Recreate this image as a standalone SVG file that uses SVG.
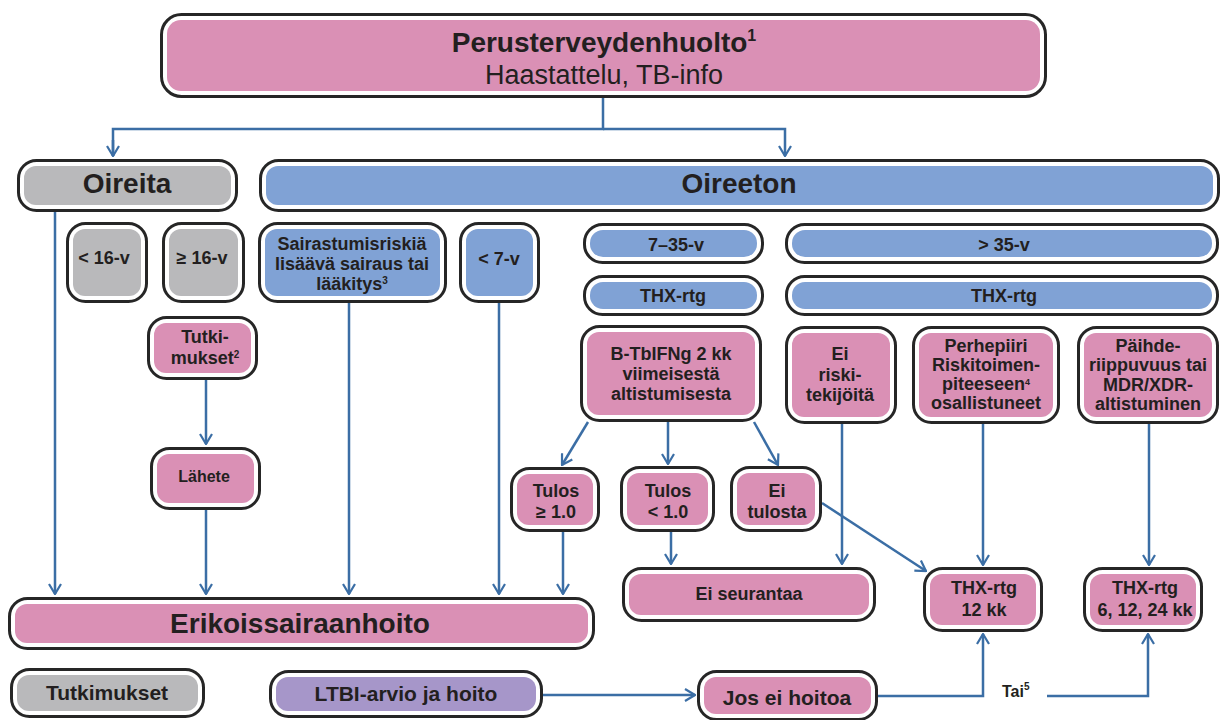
<svg xmlns="http://www.w3.org/2000/svg" width="1223" height="720" viewBox="0 0 1223 720">
<defs>
<style>
.o{fill:#fff;stroke:#262626;stroke-width:3}
.p{fill:#da90b5}
.b{fill:#80a2d5}
.g{fill:#b9b9bb}
.v{fill:#a696c9}
text{font-family:"Liberation Sans",Arial,sans-serif;font-weight:bold;fill:#231f20;text-anchor:middle;font-size:18px}
.big{font-size:28px}
.mid{font-size:21px}
.c{fill:none;stroke:#3b6ea5;stroke-width:2.5}
.a{marker-end:url(#ar)}
</style>
<marker id="ar" viewBox="0 0 12 14" refX="11" refY="7" markerWidth="12" markerHeight="14" markerUnits="userSpaceOnUse" orient="auto">
<path d="M1,1 L11,7 L1,13" fill="none" stroke="#3b6ea5" stroke-width="2.2"/>
</marker>
</defs>
<rect width="1223" height="720" fill="#fff"/>
<g id="connectors">
<path class="c" d="M603,98 V129 H113 V156"/>
<path class="c a" d="M113,140 V156"/>
<path class="c a" d="M603,129 H785 V156"/>
<path class="c a" d="M55,212 V594"/>
<path class="c a" d="M206,380 V444"/>
<path class="c a" d="M206,510 V594"/>
<path class="c a" d="M349,303 V594"/>
<path class="c a" d="M499,303 V594"/>
<path class="c a" d="M563,532 V594"/>
<path class="c a" d="M588,422 L562,465"/>
<path class="c a" d="M668,422 V464"/>
<path class="c a" d="M754,422 L778,465"/>
<path class="c a" d="M671,532 V564"/>
<path class="c a" d="M842,424 V564"/>
<path class="c a" d="M822,503 L926,571"/>
<path class="c a" d="M983,424 V565"/>
<path class="c a" d="M1149,424 V565"/>
<path class="c a" d="M543,695 H695"/>
<path class="c a" d="M878,696 H983 V634"/>
<path class="c a" d="M1047,696 H1148 V634"/>
</g>
<g id="n-top"><rect class="o" x="161.5" y="14.5" width="884" height="82" rx="20"/><rect class="p" x="167" y="20" width="873" height="71" rx="14"/>
<text x="604" y="52" class="big">Perusterveydenhuolto<tspan font-size="16" dy="-11">1</tspan></text>
<text x="604" y="84" style="font-weight:normal;font-size:27px">Haastattelu, TB-info</text></g>
<g id="n-oireita"><rect class="o" x="18.5" y="160.5" width="218" height="50" rx="18"/><rect class="g" x="24" y="166" width="207" height="39" rx="12"/><text x="127" y="193" class="big">Oireita</text></g>
<g id="n-oireeton"><rect class="o" x="260.5" y="160.5" width="958" height="50" rx="18"/><rect class="b" x="266" y="166" width="947" height="39" rx="12"/><text x="739" y="193" class="big">Oireeton</text></g>
<g id="n-lt16"><rect class="o" x="67.5" y="223.5" width="79" height="78" rx="18"/><rect class="g" x="73" y="229" width="68" height="67" rx="12"/><text x="104" y="264">&lt; 16-v</text></g>
<g id="n-ge16"><rect class="o" x="163.5" y="223.5" width="80" height="78" rx="18"/><rect class="g" x="169" y="229" width="69" height="67" rx="12"/><text x="202" y="264">≥ 16-v</text></g>
<g id="n-sairas"><rect class="o" x="259.5" y="223.5" width="186" height="78" rx="18"/><rect class="b" x="265" y="229" width="175" height="67" rx="12"/>
<text x="352" y="250">Sairastumisriskiä</text><text x="352" y="270">lisäävä sairaus tai</text><text x="352" y="290">lääkitys<tspan font-size="10" dy="-6">3</tspan></text></g>
<g id="n-lt7"><rect class="o" x="460.5" y="223.5" width="78" height="78" rx="18"/><rect class="b" x="466" y="229" width="67" height="67" rx="12"/><text x="499" y="265">&lt; 7-v</text></g>
<g id="n-735"><rect class="o" x="584.5" y="224.5" width="178" height="38" rx="18"/><rect class="b" x="590" y="230" width="167" height="27" rx="13"/><text x="676" y="251">7–35-v</text></g>
<g id="n-thx1"><rect class="o" x="584.5" y="276.5" width="178" height="38" rx="18"/><rect class="b" x="590" y="282" width="167" height="27" rx="13"/><text x="673" y="302">THX-rtg</text></g>
<g id="n-gt35"><rect class="o" x="786.5" y="224.5" width="431" height="38" rx="18"/><rect class="b" x="792" y="230" width="420" height="27" rx="13"/><text x="1004" y="251">&gt; 35-v</text></g>
<g id="n-thx2"><rect class="o" x="786.5" y="276.5" width="431" height="38" rx="18"/><rect class="b" x="792" y="282" width="420" height="27" rx="13"/><text x="1004" y="302">THX-rtg</text></g>
<g id="n-tutki"><rect class="o" x="148.5" y="317.5" width="108" height="61" rx="18"/><rect class="p" x="154" y="323" width="97" height="50" rx="12"/>
<text x="205" y="343">Tutki-</text><text x="205" y="364">mukset<tspan font-size="10" dy="-6">2</tspan></text></g>
<g id="n-btb"><rect class="o" x="581.5" y="326.5" width="179" height="94" rx="18"/><rect class="p" x="587" y="332" width="168" height="83" rx="12"/>
<text x="671" y="360">B-TbIFNg 2 kk</text><text x="671" y="380">viimeisestä</text><text x="671" y="400">altistumisesta</text></g>
<g id="n-eiriski"><rect class="o" x="786.5" y="327.5" width="109" height="95" rx="18"/><rect class="p" x="792" y="333" width="98" height="84" rx="12"/>
<text x="840" y="360">Ei</text><text x="840" y="381">riski-</text><text x="840" y="401">tekijöitä</text></g>
<g id="n-perhe"><rect class="o" x="913.5" y="327.5" width="145" height="95" rx="18"/><rect class="p" x="919" y="333" width="134" height="84" rx="12"/>
<text x="986" y="352">Perhepiiri</text><text x="986" y="371">Riskitoimen-</text><text x="986" y="390">piteeseen<tspan font-size="9" dy="-5">4</tspan></text><text x="986" y="409">osallistuneet</text></g>
<g id="n-paihde"><rect class="o" x="1078.5" y="327.5" width="139" height="95" rx="18"/><rect class="p" x="1084" y="333" width="128" height="84" rx="12"/>
<text x="1148" y="352">Päihde-</text><text x="1148" y="371">riippuvuus tai</text><text x="1148" y="391">MDR/XDR-</text><text x="1148" y="410">altistuminen</text></g>
<g id="n-lahete"><rect class="o" x="151.5" y="448.5" width="108" height="60" rx="18"/><rect class="p" x="157" y="454" width="97" height="49" rx="12"/><text x="204" y="482" style="font-size:16px">Lähete</text></g>
<g id="n-tulos1"><rect class="o" x="511.5" y="468.5" width="87" height="62" rx="18"/><rect class="p" x="517" y="474" width="76" height="51" rx="12"/>
<text x="556" y="497">Tulos</text><text x="556" y="518">≥ 1.0</text></g>
<g id="n-tulos2"><rect class="o" x="621.5" y="467.5" width="92" height="63" rx="18"/><rect class="p" x="627" y="473" width="81" height="52" rx="12"/>
<text x="668" y="497">Tulos</text><text x="668" y="518">&lt; 1.0</text></g>
<g id="n-eitulosta"><rect class="o" x="731.5" y="467.5" width="89" height="63" rx="18"/><rect class="p" x="737" y="473" width="78" height="52" rx="12"/>
<text x="777" y="497">Ei</text><text x="777" y="518">tulosta</text></g>
<g id="n-eiseur"><rect class="o" x="623.5" y="568.5" width="251" height="52" rx="18"/><rect class="p" x="629" y="574" width="240" height="41" rx="12"/><text x="749" y="600">Ei seurantaa</text></g>
<g id="n-thx12"><rect class="o" x="924.5" y="568.5" width="117" height="62" rx="18"/><rect class="p" x="930" y="574" width="106" height="51" rx="12"/>
<text x="984" y="594">THX-rtg</text><text x="984" y="616">12 kk</text></g>
<g id="n-thx6"><rect class="o" x="1084.5" y="568.5" width="117" height="62" rx="18"/><rect class="p" x="1090" y="574" width="106" height="51" rx="12"/>
<text x="1145" y="594">THX-rtg</text><text x="1145" y="616">6, 12, 24 kk</text></g>
<g id="n-eriko"><rect class="o" x="9.5" y="598.5" width="584" height="50" rx="18"/><rect class="p" x="15" y="604" width="573" height="39" rx="12"/><text x="300" y="633" class="big">Erikoissairaanhoito</text></g>
<g id="n-tutkimukset"><rect class="o" x="11.5" y="669.5" width="192" height="47" rx="18"/><rect class="g" x="17" y="675" width="181" height="36" rx="12"/><text x="107" y="700" class="mid">Tutkimukset</text></g>
<g id="n-ltbi"><rect class="o" x="270.5" y="671.5" width="271" height="45" rx="18"/><rect class="v" x="276" y="677" width="260" height="34" rx="12"/><text x="406" y="701" class="mid">LTBI-arvio ja hoito</text></g>
<g id="n-jos"><rect class="o" x="698.5" y="671.5" width="178" height="48" rx="18"/><rect class="p" x="704" y="677" width="167" height="37" rx="12"/><text x="787" y="705" class="mid">Jos ei hoitoa</text></g>
<g id="t-tai"><text x="1002" y="697" style="text-anchor:start;font-size:16px">Tai<tspan font-size="10" dy="-7">5</tspan></text></g>
</svg>
